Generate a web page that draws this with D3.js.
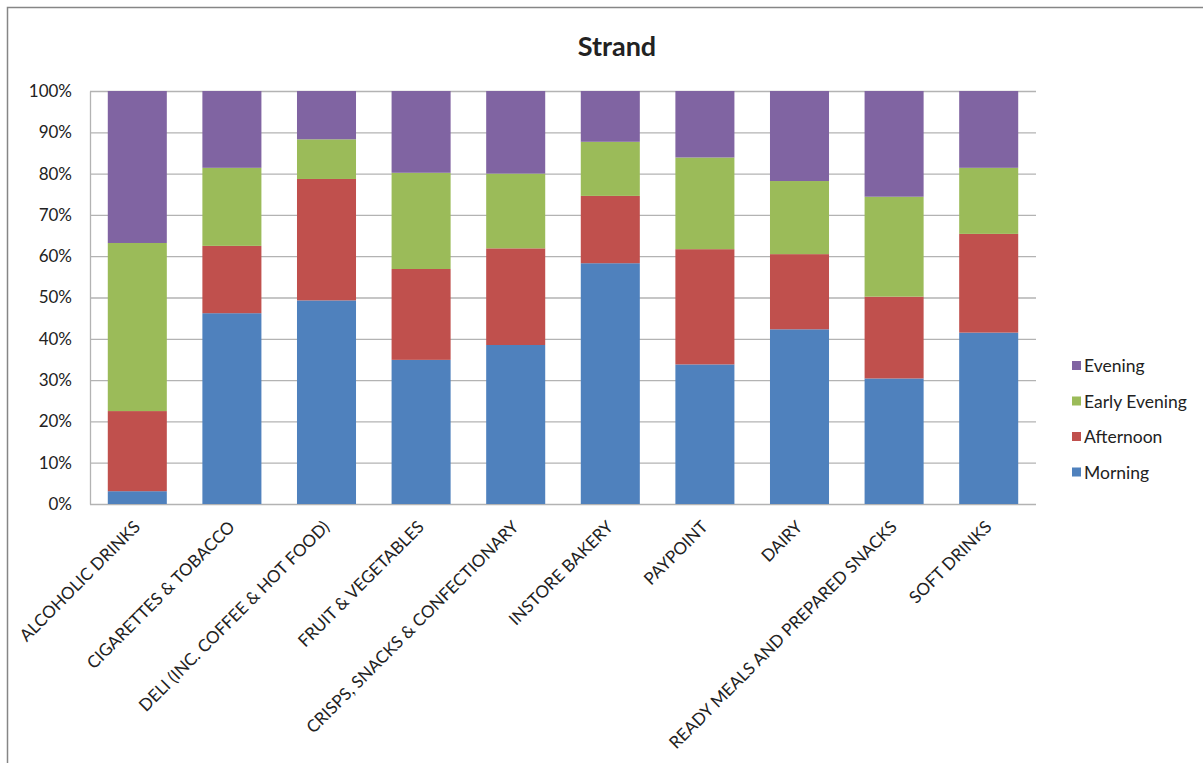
<!DOCTYPE html>
<html lang='en'>
	<head>
		<title>Strand</title>
		<script type='text/javascript' src='https://cdn.jsdelivr.net/npm/d3@7/dist/d3.min.js'></script>
		<style>
			body { margin: 0; background: #fff; }
			text { font-family: Lato, 'Open Sans', sans-serif; fill: #222; }
		</style>
	</head>
	<body>
		<script type='text/javascript'>
		{
			var categories = ['ALCOHOLIC DRINKS', 'CIGARETTES & TOBACCO', 'DELI (INC. COFFEE & HOT FOOD)', 'FRUIT & VEGETABLES',
				'CRISPS, SNACKS & CONFECTIONARY', 'INSTORE BAKERY', 'PAYPOINT', 'DAIRY', 'READY MEALS AND PREPARED SNACKS', 'SOFT DRINKS']
			var series_names = ['Morning', 'Afternoon', 'Early Evening', 'Evening']
			var morning = [3.1, 46.2, 49.3, 34.9, 38.5, 58.3, 33.8, 42.3, 30.4, 41.5]
			var afternoon = [19.4, 16.3, 29.4, 22.0, 23.4, 16.3, 27.9, 18.2, 19.8, 23.9]
			var early_evening = [40.7, 18.9, 9.6, 23.3, 18.1, 13.1, 22.2, 17.7, 24.2, 16.0]
			var evening = [36.8, 18.6, 11.7, 19.8, 20.0, 12.3, 16.1, 21.8, 25.6, 18.6]
			var y_ticks = [0, 10, 20, 30, 40, 50, 60, 70, 80, 90, 100]
			var colors = ['#4F81BD', '#C0504D', '#9BBB59', '#8064A2']

			var width = 1203, height = 763
			var svg = d3.select('body').append('svg').attr('width', width).attr('height', height)

			// chart border
			svg.append('rect').attr('x', 7.5).attr('y', 7.5).attr('width', width + 10).attr('height', height + 10)
				.attr('fill', 'none').attr('stroke', '#868686').attr('stroke-width', 1.5)

			svg.append('text').attr('x', 617).attr('y', 56).attr('text-anchor', 'middle')
				.style('font-size', '27px').style('font-weight', 'bold').text('Strand')

			var plot_left = 90, plot_right = 1036, plot_top = 91, plot_bottom = 504

			var table = categories.map((c, i) => ({cat: c, Morning: morning[i], Afternoon: afternoon[i], 'Early Evening': early_evening[i], Evening: evening[i]}))
			table.forEach(d => { d.total = d3.sum(series_names, k => d[k]) })
			var stacked = d3.stack().keys(series_names).value((d, k) => d[k] / d.total * 100)(table)

			var x = d3.scaleBand().domain(categories).range([plot_left, plot_right]).paddingInner(0.376).paddingOuter(0.188)
			var y = d3.scaleLinear().domain([0, 100]).range([plot_bottom, plot_top])

			// gridlines
			svg.append('g').selectAll('line').data(y_ticks).enter().append('line')
				.attr('x1', plot_left).attr('x2', plot_right)
				.attr('y1', d => y(d) + 0.5).attr('y2', d => y(d) + 0.5)
				.attr('stroke', '#b3b3b3').attr('stroke-width', 1.3)

			var y_axis = svg.append('g').attr('transform', 'translate(' + plot_left + ',0)')
				.call(d3.axisLeft(y).tickValues(y_ticks).tickFormat(d => d + '%').tickSize(0).tickPadding(18))
			y_axis.select('.domain').attr('stroke', '#b3b3b3').attr('stroke-width', 1.3)
			y_axis.selectAll('text').style('font-size', '17px').style('font-family', 'Lato, sans-serif').attr('fill', '#222')

			svg.append('g').selectAll('g').data(stacked).enter().append('g')
				.attr('fill', (d, i) => colors[i])
				.selectAll('rect').data(d => d).enter().append('rect')
				.attr('x', d => x(d.data.cat))
				.attr('width', x.bandwidth())
				.attr('y', d => y(d[1]))
				.attr('height', d => y(d[0]) - y(d[1]))

			// category labels
			svg.append('g').selectAll('text').data(categories).enter().append('text')
				.attr('transform', d => 'translate(' + (x(d) + x.bandwidth() / 2 + 4) + ',' + (plot_bottom + 24) + ') rotate(-45)')
				.attr('text-anchor', 'end')
				.style('font-size', '17px')
				.text(d => d)

			// legend
			var legend = svg.append('g').selectAll('g').data(series_names.slice().reverse()).enter().append('g')
				.attr('transform', (d, i) => 'translate(1072,' + (366 + i * 35.5) + ')')
			legend.append('rect').attr('x', 0).attr('y', -5).attr('width', 9).attr('height', 9)
				.attr('fill', d => colors[series_names.indexOf(d)])
			legend.append('text').attr('x', 12).attr('y', 6).style('font-size', '17.5px').text(d => d)
		}
		</script>
	</body>
</html>
